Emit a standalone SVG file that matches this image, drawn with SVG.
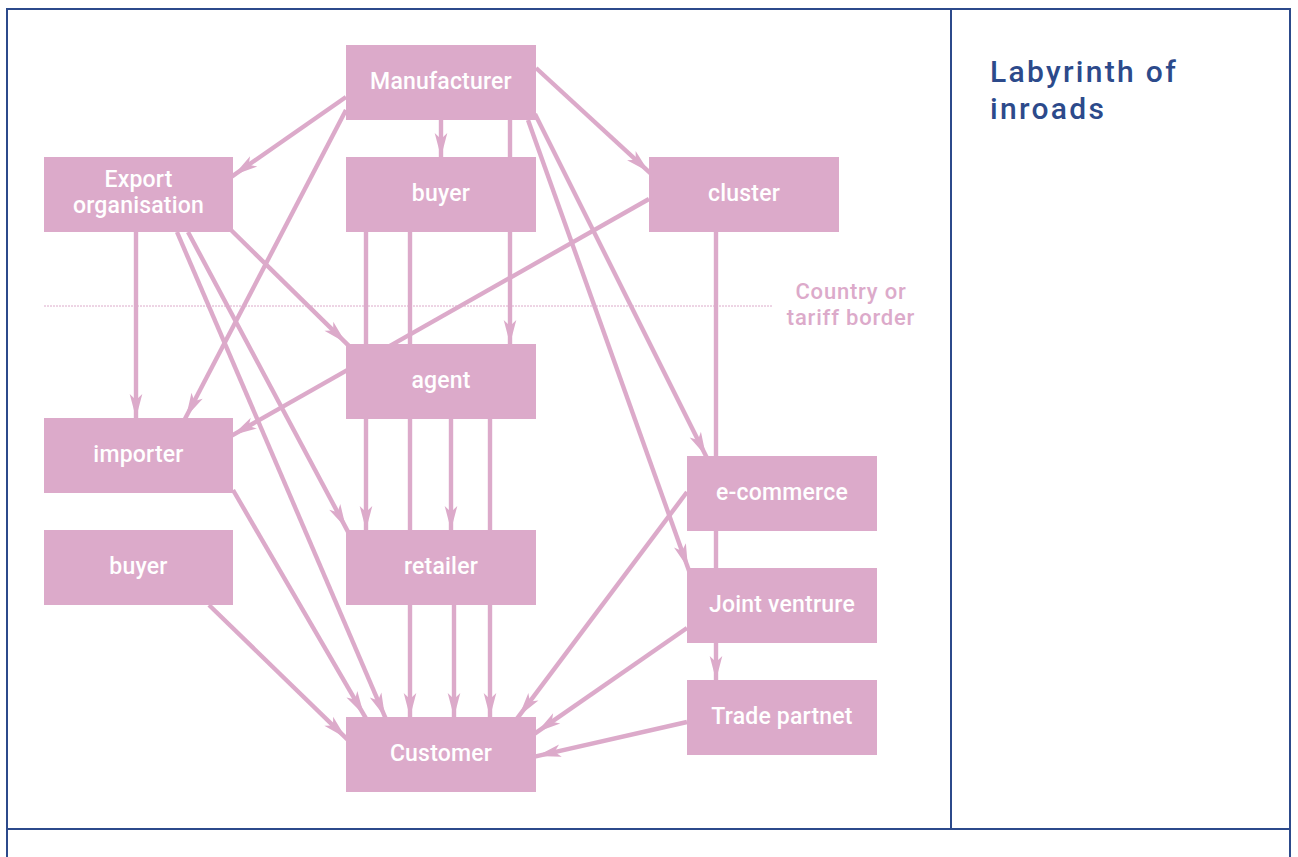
<svg xmlns="http://www.w3.org/2000/svg" width="1298" height="857" viewBox="0 0 1298 857">
<style>
.node rect{fill:#dcaaca}
.node text{fill:#ffffff;font-family:Roboto,"Liberation Sans",sans-serif;font-size:23px;font-weight:500;text-anchor:middle;letter-spacing:0.2px}
.conn line{stroke:#dcaaca;stroke-width:4.4;fill:none}
.conn line.a{marker-end:url(#ah)}
.frame{stroke:#2c4a8b;stroke-width:2;fill:none}
.title{fill:#2c4a8b;font-family:Roboto,"Liberation Sans",sans-serif;font-size:30px;font-weight:500;letter-spacing:2.3px}
.border-label{fill:#dcaaca;font-family:Roboto,"Liberation Sans",sans-serif;font-size:22px;font-weight:500;text-anchor:middle;letter-spacing:0.8px}
</style>
<defs>
<marker id="ah" markerUnits="userSpaceOnUse" orient="auto" overflow="visible" refX="0" refY="0" markerWidth="1" markerHeight="1">
<path d="M-8,0 L-32,-6.3 L-26,0 L-32,6.3 Z" fill="#dcaaca"/>
</marker>
</defs>
<rect x="0" y="0" width="1298" height="857" fill="#ffffff"/>
<g id="frame">
<line class="frame" x1="7" y1="9" x2="1291" y2="9"/>
<line class="frame" x1="7" y1="8" x2="7" y2="857"/>
<line class="frame" x1="1290" y1="8" x2="1290" y2="857"/>
<line class="frame" x1="951" y1="9" x2="951" y2="829"/>
<line class="frame" x1="7" y1="829" x2="1291" y2="829"/>
</g>
<g id="title">
<text class="title" x="990" y="82">Labyrinth of</text>
<text class="title" x="990" y="119">inroads</text>
</g>
<g id="border">
<line x1="44" y1="306" x2="772" y2="306" stroke="#dcaaca" stroke-width="1" stroke-dasharray="2,1"/>
<text class="border-label" x="851" y="299">Country or</text>
<text class="border-label" x="851" y="325">tariff border</text>
</g>
<g id="connectors" class="conn">
<line class="a" x1="346" y1="97" x2="227.4" y2="179.6"/>
<line class="a" x1="346" y1="110" x2="182.3" y2="424.1"/>
<line class="a" x1="441" y1="120" x2="441" y2="165"/>
<line class="a" x1="510" y1="120" x2="510" y2="352"/>
<line class="a" x1="528" y1="120" x2="690.7" y2="575.5"/>
<line class="a" x1="535" y1="114" x2="709.6" y2="463.2"/>
<line class="a" x1="536" y1="68" x2="654.9" y2="177.4"/>
<line class="a" x1="136" y1="232" x2="136" y2="426"/>
<line class="a" x1="177" y1="232" x2="388.2" y2="724.4"/>
<line class="a" x1="188" y1="232" x2="349.8" y2="535.1"/>
<line class="a" x1="231" y1="230" x2="351.7" y2="348.6"/>
<line class="a" x1="366" y1="232" x2="366" y2="538"/>
<line class="a" x1="410" y1="232" x2="410" y2="725"/>
<line class="a" x1="451" y1="419" x2="451" y2="538"/>
<line class="a" x1="490" y1="419" x2="490" y2="725"/>
<line class="a" x1="454" y1="605" x2="454" y2="725"/>
<line class="a" x1="649" y1="199" x2="226" y2="438.9"/>
<line class="a" x1="716" y1="232" x2="716" y2="688"/>
<line class="a" x1="233" y1="490" x2="368" y2="721.9"/>
<line class="a" x1="209" y1="605" x2="351.7" y2="743.6"/>
<line class="a" x1="687" y1="492" x2="514.2" y2="722.4"/>
<line class="a" x1="687" y1="628" x2="530.4" y2="736.6"/>
<line class="a" x1="687" y1="722" x2="529.2" y2="757.8"/>
</g>
<g id="manufacturer" class="node"><rect x="346" y="45" width="190" height="75"/><text x="441" y="89">Manufacturer</text></g>
<g id="export-organisation" class="node"><rect x="44" y="157" width="189" height="75"/><text x="138.5" y="187">Export</text><text x="138.5" y="213">organisation</text></g>
<g id="buyer-top" class="node"><rect x="346" y="157" width="190" height="75"/><text x="441" y="201">buyer</text></g>
<g id="cluster" class="node"><rect x="649" y="157" width="190" height="75"/><text x="744" y="201">cluster</text></g>
<g id="agent" class="node"><rect x="346" y="344" width="190" height="75"/><text x="441" y="388">agent</text></g>
<g id="importer" class="node"><rect x="44" y="418" width="189" height="75"/><text x="138.5" y="462">importer</text></g>
<g id="buyer-left" class="node"><rect x="44" y="530" width="189" height="75"/><text x="138.5" y="574">buyer</text></g>
<g id="retailer" class="node"><rect x="346" y="530" width="190" height="75"/><text x="441" y="574">retailer</text></g>
<g id="e-commerce" class="node"><rect x="687" y="456" width="190" height="75"/><text x="782" y="500">e-commerce</text></g>
<g id="joint-venture" class="node"><rect x="687" y="568" width="190" height="75"/><text x="782" y="612">Joint ventrure</text></g>
<g id="trade-partner" class="node"><rect x="687" y="680" width="190" height="75"/><text x="782" y="724">Trade partnet</text></g>
<g id="customer" class="node"><rect x="346" y="717" width="190" height="75"/><text x="441" y="761">Customer</text></g>
</svg>
